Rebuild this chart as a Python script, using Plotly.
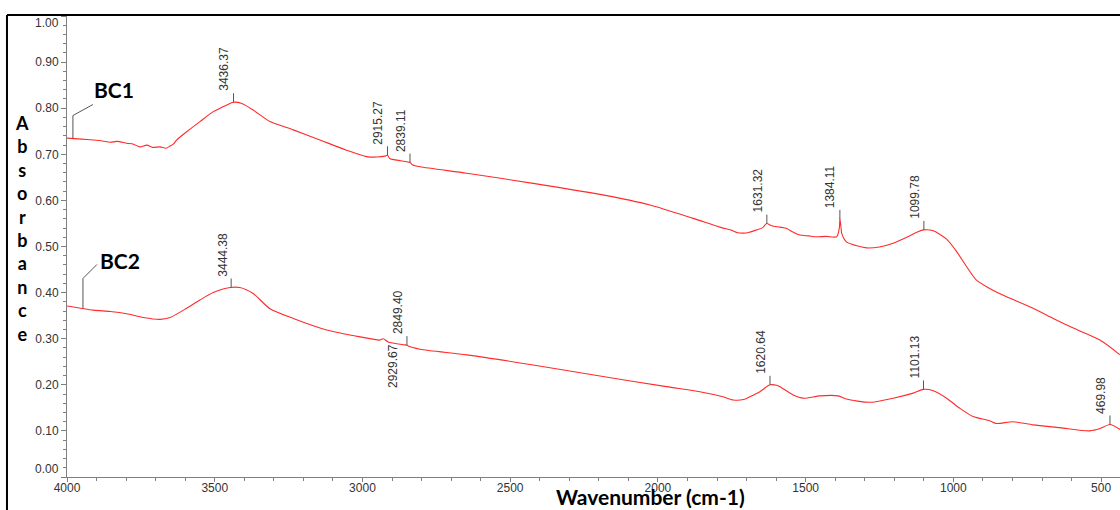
import numpy as np
import plotly.graph_objects as go

# ---------------- data ----------------
bc1_wn = [4000, 3950, 3911, 3880, 3854, 3830, 3798, 3775, 3753, 3730, 3710, 3685, 3665, 3651, 3640,
          3629, 3595, 3550, 3506, 3459, 3437, 3408, 3370, 3313, 3234, 3144, 3054, 2986, 2950, 2924,
          2915, 2908, 2870, 2850, 2839, 2830, 2805, 2647, 2422, 2196, 2027, 1881, 1790, 1750, 1730,
          1711, 1690, 1666, 1645, 1632, 1615, 1587, 1564, 1545, 1520, 1490, 1463, 1430, 1395, 1386,
          1384, 1380, 1378, 1362, 1330, 1294, 1250, 1204, 1158, 1120, 1100, 1068, 1023, 989, 955,
          922, 877, 820, 798, 730, 662, 594, 504, 436]
bc1_abs = [0.735, 0.733, 0.731, 0.729, 0.726, 0.728, 0.724, 0.722, 0.716, 0.720, 0.715, 0.716, 0.713, 0.718, 0.722,
           0.731, 0.749, 0.771, 0.792, 0.807, 0.813, 0.810, 0.796, 0.771, 0.753, 0.731, 0.709, 0.695, 0.694, 0.696,
           0.698, 0.691, 0.686, 0.684, 0.682, 0.677, 0.673, 0.659, 0.637, 0.613, 0.590, 0.561, 0.542, 0.535, 0.530,
           0.529, 0.531, 0.536, 0.541, 0.550, 0.545, 0.542, 0.539, 0.532, 0.525, 0.523, 0.521, 0.522, 0.521, 0.540,
           0.561, 0.540, 0.529, 0.510, 0.502, 0.497, 0.499, 0.507, 0.520, 0.532, 0.536, 0.534, 0.516, 0.489, 0.456,
           0.427, 0.409, 0.391, 0.385, 0.366, 0.344, 0.323, 0.297, 0.265]

bc2_wn = [4000, 3911, 3854, 3798, 3742, 3685, 3651, 3595, 3550, 3505, 3448, 3415, 3370, 3313, 3234,
          3121, 3008, 2941, 2930, 2913, 2862, 2849, 2845, 2805, 2647, 2422, 2196, 1971, 1858, 1780,
          1745, 1710, 1689, 1655, 1621, 1598, 1587, 1542, 1508, 1452, 1390, 1362, 1283, 1204, 1136,
          1101, 1068, 1023, 978, 933, 877, 854, 798, 730, 640, 538, 504, 470, 436]
bc2_abs = [0.371, 0.362, 0.359, 0.354, 0.346, 0.342, 0.346, 0.366, 0.384, 0.400, 0.411, 0.411, 0.398, 0.365, 0.344,
           0.319, 0.304, 0.297, 0.300, 0.293, 0.287, 0.286, 0.284, 0.277, 0.265, 0.243, 0.219, 0.196, 0.185, 0.174,
           0.167, 0.168, 0.174, 0.185, 0.200, 0.199, 0.196, 0.178, 0.171, 0.176, 0.176, 0.169, 0.162, 0.171, 0.182,
           0.190, 0.187, 0.171, 0.149, 0.131, 0.122, 0.116, 0.120, 0.113, 0.107, 0.100, 0.105, 0.114, 0.103]

bc1_peaks = [3436.37, 2915.27, 2839.11, 1631.32, 1384.11, 1099.78]
bc2_peaks = [3444.38, 2929.67, 2849.40, 1620.64, 1101.13, 469.98]
bc2_peaks_below = [2929.67]

series_names = ["BC1", "BC2"]
y_ticks = [0.0, 0.1, 0.2, 0.3, 0.4, 0.5, 0.6, 0.7, 0.8, 0.9, 1.0]
x_ticks = [4000, 3500, 3000, 2500, 2000, 1500, 1000, 500]

# ---------------- figure ----------------
RED = "#ff2b2b"
GREY = "#7f7f7f"
fig = go.Figure()
for wn, ab, name in [(bc1_wn, bc1_abs, series_names[0]), (bc2_wn, bc2_abs, series_names[1])]:
    fig.add_trace(go.Scatter(x=wn, y=ab, mode="lines", name=name,
                             line=dict(color=RED, width=1.1, shape="spline", smoothing=0.7),
                             showlegend=False))


def curve_at(wn_list, ab_list, w):
    return float(np.interp(w, wn_list[::-1], ab_list[::-1]))


annotations = []
label_font = dict(family="Liberation Sans, Arial, sans-serif", size=12, color="#333333")
for peaks, wn, ab, below_list in [(bc1_peaks, bc1_wn, bc1_abs, []),
                                  (bc2_peaks, bc2_wn, bc2_abs, bc2_peaks_below)]:
    for p in peaks:
        yv = curve_at(wn, ab, p)
        if p in below_list:
            annotations.append(dict(
                x=p, y=yv, xref="x", yref="y", text=f"{p:.2f}", textangle=-90,
                showarrow=False, xanchor="left", yanchor="top", yshift=-3, xshift=1,
                font=label_font))
        else:
            annotations.append(dict(
                x=p, y=yv, xref="x", yref="y", text=f"{p:.2f}", textangle=-90,
                showarrow=True, arrowhead=0, arrowwidth=1, arrowcolor="#555555",
                ax=0, ay=-9, standoff=0, xanchor="left", yanchor="bottom",
                font=label_font))

# series name labels with bent leader lines
shapes = []
name_font = dict(family="Lato, sans-serif", size=21, color="#000000", weight="bold")
for name, wn, ab, w_anchor, path, xs, ys in [
        ("BC1", bc1_wn, bc1_abs, 3980, "M0,0 L0,23 L20,34", 19, 49),
        ("BC2", bc2_wn, bc2_abs, 3946, "M0,0 L0,30 L14,44", 15, 48)]:
    yv = curve_at(wn, ab, w_anchor)
    shapes.append(dict(type="path", xref="x", yref="y", xsizemode="pixel", ysizemode="pixel",
                       xanchor=w_anchor, yanchor=yv, path=path,
                       line=dict(color="#555555", width=1)))
    annotations.append(dict(x=w_anchor, y=yv, xref="x", yref="y", text=name, showarrow=False,
                            xanchor="left", yanchor="middle", xshift=xs, yshift=ys, font=name_font))

# end tick labels (drawn nudged inward, as in the original)
tick_font = dict(family="Liberation Sans, Arial, sans-serif", size=12, color="#333333")
for yt, shift in [(y_ticks[0], 8), (y_ticks[-1], -7)]:
    annotations.append(dict(x=0, y=yt, xref="paper", yref="y", text=f"{yt:.2f}", showarrow=False,
                            xanchor="right", yanchor="middle", xshift=-6, yshift=shift, font=tick_font))

# axis titles
annotations.append(dict(x=0, y=0.54, xref="paper", yref="paper", xshift=-45,
                        text="<br>".join(list("Absorbance")), showarrow=False,
                        xanchor="center", yanchor="middle",
                        font=dict(family="Lato, sans-serif", size=18, color="#000000", weight="bold")))
annotations.append(dict(x=0.5546, y=0, xref="paper", yref="paper", yshift=-33, borderpad=0,
                        text="Wavenumber (cm-1)", showarrow=False,
                        xanchor="center", yanchor="bottom",
                        font=dict(family="Lato, sans-serif", size=21, color="#000000", weight="bold")))

# outer frame (left and top)
shapes.append(dict(type="line", xref="paper", yref="paper", x0=-0.057, x1=1.01, y0=1.002, y1=1.002,
                   line=dict(color="#000000", width=2)))
shapes.append(dict(type="line", xref="paper", yref="paper", x0=-0.057, x1=-0.057, y0=-0.08, y1=1.002,
                   line=dict(color="#000000", width=2)))

fig.update_layout(
    width=1120, height=510,
    margin=dict(l=67, r=0, t=16, b=33),
    plot_bgcolor="white", paper_bgcolor="white",
    annotations=annotations, shapes=shapes,
    xaxis=dict(range=[4000, 436], tickvals=x_ticks, ticktext=[str(t) for t in x_ticks],
               showline=True, linecolor=GREY, linewidth=1, ticks="outside", ticklen=4,
               tickcolor=GREY, showgrid=False, zeroline=False, tickfont=tick_font,
               ticklabelstandoff=-4,
               minor=dict(dtick=100, tick0=0, ticks="outside", ticklen=3, tickcolor=GREY, showgrid=False)),
    yaxis=dict(range=[0, 1.0], tickvals=y_ticks,
               ticktext=["" if t in (y_ticks[0], y_ticks[-1]) else f"{t:.2f}" for t in y_ticks],
               showline=True, linecolor=GREY, linewidth=1, ticks="outside", ticklen=5,
               tickcolor=GREY, showgrid=False, zeroline=False, tickfont=tick_font,
               minor=dict(dtick=0.02, tick0=0, ticks="outside", ticklen=3, tickcolor=GREY, showgrid=False)),
)

fig.write_html("out.html", config={"displayModeBar": False},
               post_script="document.body.style.margin='0';document.body.style.overflow='hidden';")
